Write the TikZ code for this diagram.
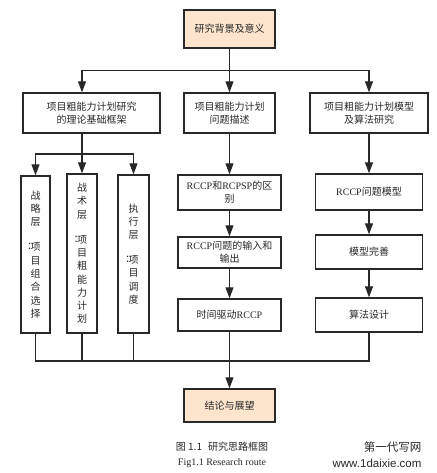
\documentclass[tikz,border=0pt]{standalone}
\usepackage{fontspec}
\setmainfont{Liberation Serif}
\setsansfont{Liberation Sans}
\newfontfamily\cjk{Noto Sans CJK SC}
\usetikzlibrary{arrows.meta}

\definecolor{peach}{RGB}{252,228,205}
\definecolor{ink}{RGB}{40,40,40}

% colon set at the left of the next character
\newcommand{\sidecolon}{\\[11.7pt]\rlap{\hspace{-3.5pt}\raisebox{1pt}{：}}}

\tikzset{
  box/.style={draw=ink, line width=1.4pt, fill=white, align=center,
    inner sep=1pt, text=ink, font=\cjk\fontsize{10}{13}\selectfont},
  endbox/.style={box, fill=peach},
  vbox/.style={box, font=\cjk\fontsize{10}{13.3}\selectfont},
  link/.style={draw=ink, line width=1.1pt},
  arr/.style={link, -{Triangle[length=11pt,width=8pt]}},
}

\begin{document}
\begin{tikzpicture}[x=1pt,y=-1pt]
  \useasboundingbox (0,0) rectangle (436,473);
  \fill[white] (0,0) rectangle (436,473);

  % top and bottom
  \node[endbox, minimum width=91, minimum height=38] (bg) at (229.5,29) {研究背景及意义};
  \node[endbox, minimum width=91, minimum height=33] (end) at (229.5,405.5) {结论与展望};

  % second row
  \node[box, minimum width=137, minimum height=40] (t1) at (91.5,113) {项目粗能力计划研究\\的理论基础框架};
  \node[box, minimum width=91, minimum height=40] (t2) at (229.5,113) {项目粗能力计划\\问题描述};
  \node[box, minimum width=118, minimum height=40] (t3) at (369,113) {项目粗能力计划模型\\及算法研究};

  % left column
  \node[vbox, minimum width=29, minimum height=157] (v1) at (35.5,254.5) {战\\略\\层\sidecolon 项\\目\\组\\合\\选\\择};
  \node[vbox, minimum width=30, minimum height=159] (v2) at (82,253.5) {战\\术\\层\sidecolon 项\\目\\粗\\能\\力\\计\\划};
  \node[vbox, minimum width=31, minimum height=158] (v3) at (133.5,254) {执\\行\\层\sidecolon 项\\目\\调\\度};

  % middle column
  \node[box, minimum width=103, minimum height=35] (m1) at (229.5,192.5) {{\rmfamily RCCP}和{\rmfamily RCPSP}的区\\别};
  \node[box, minimum width=103, minimum height=31] (m2) at (229.5,252.5) {{\rmfamily RCCP}问题的输入和\\输出};
  \node[box, minimum width=103, minimum height=32] (m3) at (229.5,315) {时间驱动{\rmfamily RCCP}};

  % right column
  \node[box, minimum width=107, minimum height=36] (r1) at (369,192) {{\rmfamily RCCP}问题模型};
  \node[box, minimum width=107, minimum height=34] (r2) at (369,252) {模型完善};
  \node[box, minimum width=107, minimum height=34] (r3) at (369,315) {算法设计};

  \coordinate (split) at (229.5,70.5);
  \coordinate (lsplit) at (82,154);
  \coordinate (join) at (229.5,361);

  \draw[link] (bg) -- (split);
  \draw[arr] (split) -| (t1.north -| v2);
  \draw[arr] (split) -- (t2);
  \draw[arr] (split) -| (t3);

  \draw[link] (t1.south -| v2) -- (lsplit);
  \draw[arr] (lsplit) -| (v1);
  \draw[arr] (lsplit) -- (v2);
  \draw[arr] (lsplit) -| (v3);

  \draw[arr] (t2) -- (m1);
  \draw[arr] (m1) -- (m2);
  \draw[arr] (m2) -- (m3);
  \draw[arr] (t3) -- (r1);
  \draw[arr] (r1) -- (r2);
  \draw[arr] (r2) -- (r3);

  \draw[link] (v1) |- (join);
  \draw[link] (v2) |- (join);
  \draw[link] (v3) |- (join);
  \draw[link] (r3) |- (join);
  \draw[link] (m3) -- (join);
  \draw[arr] (join) -- (end);

  % captions
  \node[text=ink, font=\cjk\fontsize{10}{12}\selectfont] (cap1) at (222,447) {图 1.1\hspace{6pt}研究思路框图};
  \node[text=ink, font=\fontsize{10}{12}\selectfont] (cap2) at (222,463) {Fig1.1 Research route};
  \node[anchor=east, text=ink, font=\cjk\fontsize{11.5}{13}\selectfont] (wm1) at (425,447) {第一代写网};
  \node[anchor=east, text=ink, font=\sffamily\fontsize{11.5}{13}\selectfont] (wm2) at (425,463) {www.1daixie.com};
\end{tikzpicture}
\end{document}
